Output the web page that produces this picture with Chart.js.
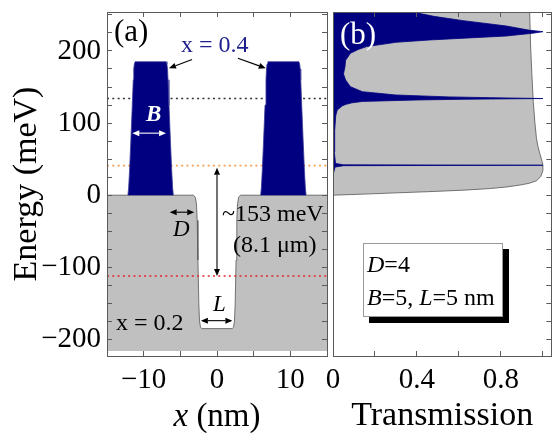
<!DOCTYPE html>
<html lang="en">
<head>
<meta charset="UTF-8">
<title>Potential profile and transmission</title>
<script src="https://cdn.jsdelivr.net/npm/chart.js@4"></script>
<style>
  body { margin: 0; background: #fff; }
  #wrap { position: relative; width: 552px; height: 433px; overflow: hidden; }
  canvas { position: absolute; top: 0; }
  #pa { left: 0; }
  #pb { left: 310px; }
  .t { position: absolute; font-family: 'Liberation Serif', 'Times New Roman', serif; line-height: 1; white-space: nowrap; color: #000; }
  #legend { position: absolute; left: 363px; top: 243px; width: 140px; height: 74px; box-sizing: border-box;
            border: 1px solid #999; background: #fff; box-shadow: 6px 6px 0 #000; }
</style>
</head>
<body>
<div id="wrap">
  <canvas id="pa" width="330" height="433"></canvas>
  <canvas id="pb" width="242" height="433"></canvas>

  <div class="t" style="left:114px;top:15px;font-size:31px">(a)</div>
  <div class="t" style="left:340px;top:18px;font-size:31px;color:#fff">(b)</div>
  <div class="t" style="left:181px;top:32px;font-size:24px;color:#1e1e8e">x = 0.4</div>
  <div class="t" style="left:146px;top:102px;font-size:23px;color:#fff;font-weight:bold;font-style:italic">B</div>
  <div class="t" style="left:173px;top:217px;font-size:23px;font-style:italic">D</div>
  <div class="t" style="left:222px;top:201px;font-size:24px">~153 meV</div>
  <div class="t" style="left:233px;top:232px;font-size:24px">(8.1 μm)</div>
  <div class="t" style="left:116px;top:310px;font-size:24px">x = 0.2</div>
  <div class="t" style="left:213px;top:292px;font-size:23px;font-style:italic">L</div>
  <div class="t" style="left:117px;top:399px;width:200px;text-align:center;font-size:33px"><i>x</i> (nm)</div>

  <div id="legend">
    <div class="t" style="left:3px;top:8px;font-size:24px"><i>D</i>=4</div>
    <div class="t" style="left:3px;top:41px;font-size:24px"><i>B</i>=5, <i>L</i>=5 nm</div>
  </div>
</div>

<script>
// ---- panel (a): potential profile, x in nm, energy in meV ----
const wellX = [-15, -3.2, -2.95, -2.8, -2.7, -2.6, -2.48, -2.38, -2.25, -2.05, 2.05, 2.25, 2.38, 2.48, 2.6, 2.7, 2.8, 2.95, 3.2, 15];
const wellE = [0, 0, -3, -12, -35, -90, -150, -175, -183, -185, -185, -183, -175, -150, -90, -35, -12, -3, 0, 0];
const grayFloor = -216;

const barrierLeftX = [-12.15, -12.05, -11.92, -11.75, -11.55, -11.42, -11.35, -11.27, -11.17,
                      -6.93, -6.83, -6.75, -6.68, -6.55, -6.35, -6.18, -6.05, -5.95];
const barrierRightX = [5.95, 6.05, 6.18, 6.35, 6.55, 6.68, 6.75, 6.83, 6.93,
                       11.17, 11.27, 11.35, 11.42, 11.55, 11.75, 11.92, 12.05, 12.15];
const barrierE = [0, 10, 35, 75, 125, 160, 175, 182, 185, 185, 182, 175, 160, 125, 75, 35, 10, 0];

// dotted energy levels
const levelE = [134, 41, -112];
const levelColors = ['#333333', '#f4a050', '#e4242a'];
const levelSpan = [-15, 15];

// ---- panel (b): transmission vs energy ----
const grayE = [0, 1.5, 3.2, 4.8, 6.9, 9.2, 11.5, 14, 16.5, 20, 26, 34, 42, 50, 58, 68, 80, 100, 130, 170, 210, 254];
const grayT = [0, 0.15, 0.30, 0.45, 0.62, 0.75, 0.83, 0.89, 0.935, 0.97, 0.99, 1.0, 1.0, 0.993, 0.985, 0.976, 0.969, 0.962, 0.954, 0.947, 0.941, 0.937];

const navyE = [0, 30, 39, 40.9, 41.5, 42.1, 44, 60, 90, 110,
               118, 124, 126, 128, 130, 132, 133, 134, 135.2, 136.3,
               138.9, 143.5, 150.4, 159.7, 168, 178, 187, 196.7, 202, 206,
               212, 215.2, 220.7, 224.5, 226.7, 229, 234.6, 242, 248, 254];
const navyT = [0, 0.002, 0.01, 0.05, 1.0, 0.05, 0.012, 0.006, 0.008, 0.013,
               0.02, 0.045, 0.063, 0.09, 0.14, 0.4, 0.62, 1.0, 0.75, 0.55,
               0.3, 0.14, 0.083, 0.06, 0.05, 0.057, 0.06, 0.083, 0.12, 0.16,
               0.3, 0.46, 0.826, 0.95, 1.0, 0.93, 0.826, 0.62, 0.48, 0.38];

// axis ranges / ticks
const xRange = [-15, 15];
const eRange = [-223, 254];
const tRange = [0, 1.04];

// annotation arrows in panel (a), data units
const arrowsA = [
  { from: [-3.4, 188], to: [-6.55, 176], both: false, color: '#000' },
  { from: [2.85, 190], to: [6.65, 176], both: false, color: '#000' },
  { from: [-11.55, 86], to: [-6.95, 86], both: true, color: '#fff' },
  { from: [-6.45, -23.6], to: [-3.1, -23.6], both: true, color: '#000' },
  { from: [0, 38], to: [0, -112], both: true, color: '#000' },
  { from: [-2.2, -174], to: [2.1, -174], both: true, color: '#000' }
];

const FONT = "'Liberation Serif', 'Times New Roman', serif";
const FRAME = '#5a5a5a';
const NAVY = '#000080';
Chart.defaults.font.family = FONT;
Chart.defaults.color = '#000';

const pts = (xs, ys) => xs.map((v, i) => ({ x: v, y: ys[i] }));
const minus = v => (v < 0 ? '\u2212' + Math.abs(v) : String(v));

// fixed box sizes, no label overhang padding
const fixSize = (w, h) => s => {
  if (w !== null) s.width = w;
  if (h !== null) s.height = h;
  s.paddingLeft = s.paddingRight = s.paddingTop = s.paddingBottom = 0;
};

// inward ticks: negative tick length
function axis(pos, range, step, extra) {
  const a = {
    type: 'linear', position: pos, min: range[0], max: range[1],
    ticks: { stepSize: step, includeBounds: false, autoSkip: false, maxRotation: 0, display: false },
    grid: { drawOnChartArea: false, tickLength: -5, tickColor: FRAME, tickWidth: 1, z: 1 },
    border: { color: FRAME, width: 1, z: 1 }
  };
  return Object.assign(a, extra || {});
}

function drawArrow(ctx, x1, y1, x2, y2, both) {
  const len = Math.hypot(x2 - x1, y2 - y1);
  const ux = (x2 - x1) / len, uy = (y2 - y1) / len;
  const hl = 7, hw = 3;
  const sx = both ? x1 + ux * hl : x1, sy = both ? y1 + uy * hl : y1;
  ctx.beginPath();
  ctx.moveTo(sx, sy);
  ctx.lineTo(x2 - ux * hl, y2 - uy * hl);
  ctx.stroke();
  const head = (tx, ty, dx, dy) => {
    const bx = tx - dx * hl, by = ty - dy * hl;
    ctx.beginPath();
    ctx.moveTo(tx, ty);
    ctx.lineTo(bx - dy * hw, by + dx * hw);
    ctx.lineTo(bx + dy * hw, by - dx * hw);
    ctx.closePath();
    ctx.fill();
  };
  head(x2, y2, ux, uy);
  if (both) head(x1, y1, -ux, -uy);
}

const arrowPlugin = {
  id: 'arrows',
  afterDatasetsDraw(chart) {
    const { ctx, scales: { x, y } } = chart;
    arrowsA.forEach(a => {
      ctx.save();
      ctx.strokeStyle = a.color;
      ctx.fillStyle = a.color;
      ctx.lineWidth = 1.1;
      drawArrow(ctx, x.getPixelForValue(a.from[0]), y.getPixelForValue(a.from[1]),
                x.getPixelForValue(a.to[0]), y.getPixelForValue(a.to[1]), a.both);
      ctx.restore();
    });
  }
};

const common = {
  responsive: false,
  animation: false,
  devicePixelRatio: 1,
  events: [],
  layout: { padding: 0 },
  plugins: { legend: { display: false }, tooltip: { enabled: false } },
  elements: { point: { radius: 0 }, line: { tension: 0 } }
};

const tickFont = { size: 29 };

// panel (a)
const levelSets = levelE.map((e, i) => ({
  data: pts(levelSpan, [e, e]), borderColor: levelColors[i], borderWidth: 1.6,
  borderDash: [2, 3.3], fill: false, order: 2
}));

new Chart(document.getElementById('pa'), {
  type: 'line',
  data: {
    datasets: [
      { data: pts(barrierLeftX, barrierE), fill: 'origin', backgroundColor: NAVY, borderColor: '#3a3a98', borderWidth: 0.8, order: 1 },
      { data: pts(barrierRightX, barrierE), fill: 'origin', backgroundColor: NAVY, borderColor: '#3a3a98', borderWidth: 0.8, order: 1 },
      ...levelSets,
      { data: pts(wellX, wellE), fill: { value: grayFloor }, backgroundColor: '#c0c0c0', borderColor: '#555', borderWidth: 0.8, order: 3 }
    ]
  },
  options: Object.assign({}, common, {
    scales: {
      x: axis('bottom', xRange, 5, {
        ticks: {
          stepSize: 5, includeBounds: false, autoSkip: false, maxRotation: 0, display: true,
          padding: 12, font: tickFont, color: '#000',
          callback: v => (Math.round(v) % 10 === 0 ? minus(Math.round(v)) : '')
        },
        afterFit: fixSize(null, 77)
      }),
      x2: axis('top', xRange, 5, { afterFit: fixSize(null, 12) }),
      y: axis('left', eRange, 25, {
        ticks: {
          stepSize: 25, includeBounds: false, autoSkip: false, display: true,
          padding: 11, font: tickFont, color: '#000',
          callback: v => (Math.round(v) % 100 === 0 ? minus(Math.round(v)) : '')
        },
        title: { display: true, text: 'Energy (meV)', font: { size: 34, lineHeight: 1 }, padding: { top: 10, bottom: 0 }, color: '#000' },
        afterFit: fixSize(107, null)
      }),
      y2: axis('right', eRange, 25, { afterFit: fixSize(3, null) })
    }
  }),
  plugins: [arrowPlugin]
});

// panel (b)
new Chart(document.getElementById('pb'), {
  type: 'line',
  data: {
    datasets: [
      { data: pts(navyT, navyE), fill: 'origin', backgroundColor: NAVY, borderColor: NAVY, borderWidth: 0.8, order: 1 },
      { data: pts(grayT, grayE), fill: 'origin', backgroundColor: '#c0c0c0', borderColor: '#555', borderWidth: 0.8, order: 2 }
    ]
  },
  options: Object.assign({}, common, {
    indexAxis: 'y',
    scales: {
      x: axis('bottom', tRange, 0.2, {
        ticks: {
          stepSize: 0.2, includeBounds: false, autoSkip: false, maxRotation: 0, display: true,
          padding: 12, font: tickFont, color: '#000',
          callback: v => {
            const k = Math.round(v * 10);
            return k % 4 === 0 ? (k === 0 ? '0' : (k / 10).toFixed(1)) : '';
          }
        },
        title: { display: true, text: 'Transmission', font: { size: 34, lineHeight: 1 }, padding: { top: 0, bottom: 0 }, color: '#000' },
        afterFit: fixSize(null, 77)
      }),
      x2: axis('top', tRange, 0.2, { afterFit: fixSize(null, 12) }),
      y: axis('left', eRange, 25, {
        grid: { display: false },
        afterFit: fixSize(23, null)
      }),
      y2: axis('right', eRange, 25, { afterFit: fixSize(0.7, null) })
    }
  })
});
</script>
</body>
</html>
